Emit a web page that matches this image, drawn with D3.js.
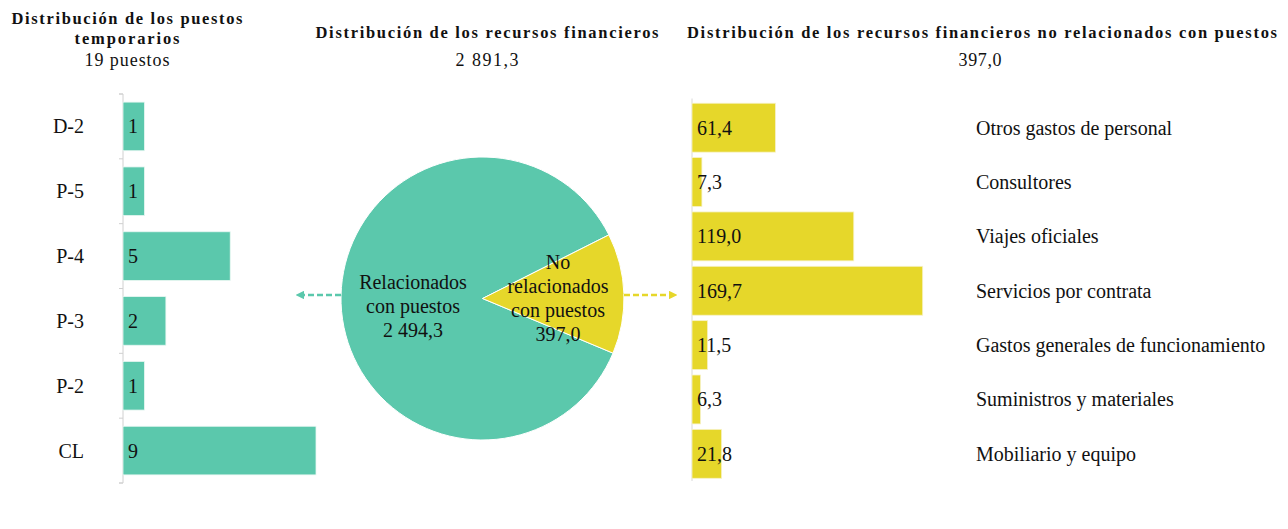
<!DOCTYPE html>
<html>
<head>
<meta charset="utf-8">
<script src="https://cdn.jsdelivr.net/npm/d3@7"></script>
<style>
  body { margin: 0; background: #fff; }
  text { font-family: "Liberation Serif", "Times New Roman", serif; fill: #111; }
  .title { font-weight: bold; font-size: 16.5px; }
  .sub { font-size: 18px; }
  .lbl { font-size: 20px; }
</style>
</head>
<body>
<script>
// data
const postCats = ['D-2', 'P-5', 'P-4', 'P-3', 'P-2', 'CL']
const postValues = [1, 1, 5, 2, 1, 9]

const pieCats = ['Relacionados con puestos', 'No relacionados con puestos']
const pieValues = [2494.3, 397.0]

const nonPostCats = ['Otros gastos de personal', 'Consultores', 'Viajes oficiales', 'Servicios por contrata',
  'Gastos generales de funcionamiento', 'Suministros y materiales', 'Mobiliario y equipo']
const nonPostValues = [61.4, 7.3, 119.0, 169.7, 11.5, 6.3, 21.8]

const fmt = v => v.toFixed(1).replace('.', ',').replace(/\B(?=(\d{3})+(?!\d))/g, ' ')

const width = 1288
const height = 529
const green = '#5BC8AC'
const yellow = '#E6D72A'

const svg = d3.select('body').append('svg')
  .attr('width', width)
  .attr('height', height)

// titles
const titles = [
  { x: 127, y: 24, t: 'Distribución de los puestos', cls: 'title', len: 231 },
  { x: 127, y: 44, t: 'temporarios', cls: 'title', len: 105 },
  { x: 127, y: 66, t: '19 puestos', cls: 'sub', len: 85 },
  { x: 487, y: 38, t: 'Distribución de los recursos financieros', cls: 'title', len: 343 },
  { x: 487, y: 66, t: fmt(d3.sum(pieValues)), cls: 'sub', len: 63 },
  { x: 982, y: 38, t: 'Distribución de los recursos financieros no relacionados con puestos', cls: 'title', len: 590 },
  { x: 980, y: 66, t: fmt(d3.sum(nonPostValues)), cls: 'sub', len: 43 }
]
svg.append('g').selectAll('text')
  .data(titles)
  .enter()
  .append('text')
  .attr('class', d => d.cls)
  .attr('x', d => d.x)
  .attr('y', d => d.y)
  .attr('text-anchor', 'middle')
  .attr('textLength', d => d.len)
  .attr('lengthAdjust', 'spacing')
  .text(d => d.t)

// left: posts bar chart
const left = { x0: 123, top: 94, bottom: 483 }
const yPost = d3.scaleBand()
  .domain(postCats)
  .range([left.top, left.bottom])
  .paddingInner(0.25)
  .paddingOuter(0.125)
const xPost = d3.scaleLinear()
  .domain([0, 9])
  .range([0, 193])

const yAxisPost = d3.scaleBand().domain(postCats).range([left.top, left.bottom])
const gAxis = svg.append('g')
  .attr('transform', `translate(${left.x0},0)`)
  .call(d3.axisLeft(yAxisPost).tickSize(0).tickFormat(''))
gAxis.select('.domain').attr('stroke', '#d0d0d0').attr('d', `M-4,${left.top}H0V${left.bottom}H-4`)
gAxis.selectAll('.tickline')
  .data(d3.range(postCats.length + 1))
  .enter()
  .append('line')
  .attr('x1', -4).attr('x2', 0)
  .attr('y1', i => left.top + i * yAxisPost.step())
  .attr('y2', i => left.top + i * yAxisPost.step())
  .attr('stroke', '#d0d0d0')

svg.append('g').selectAll('rect')
  .data(postValues)
  .enter()
  .append('rect')
  .attr('x', left.x0)
  .attr('y', (d, i) => yPost(postCats[i]))
  .attr('width', d => xPost(d))
  .attr('height', yPost.bandwidth())
  .attr('fill', green)
  .attr('stroke', '#e8f7f2')
  .attr('stroke-width', 0.8)

svg.append('g').selectAll('text')
  .data(postValues)
  .enter()
  .append('text')
  .attr('class', 'lbl')
  .attr('x', left.x0 + 5)
  .attr('y', (d, i) => yPost(postCats[i]) + yPost.bandwidth() / 2 + 7)
  .text(d => d)

svg.append('g').selectAll('text')
  .data(postCats)
  .enter()
  .append('text')
  .attr('class', 'lbl')
  .attr('x', 84)
  .attr('y', d => yPost(d) + yPost.bandwidth() / 2 + 7)
  .attr('text-anchor', 'end')
  .text(d => d)

// middle: pie
const cx = 482.5
const cy = 298.5
const r = 141.5
const yellowAngle = 2 * Math.PI * pieValues[1] / d3.sum(pieValues)
const yellowMid = 88 * Math.PI / 180
const pie = d3.pie()
  .sort(null)
  .value(d => d)
  .startAngle(yellowMid + yellowAngle / 2)
  .endAngle(yellowMid + yellowAngle / 2 + 2 * Math.PI)
const arc = d3.arc().innerRadius(0).outerRadius(r)
const gPie = svg.append('g').attr('transform', `translate(${cx},${cy})`)
gPie.selectAll('path')
  .data(pie(pieValues))
  .enter()
  .append('path')
  .attr('d', arc)
  .attr('fill', (d, i) => i === 0 ? green : yellow)
  .attr('stroke', '#fff')
  .attr('stroke-width', 1)

const pieLabels = [
  { x: 413, y: 289, lines: ['Relacionados', 'con puestos', fmt(pieValues[0])] },
  { x: 558, y: 269, lines: ['No', 'relacionados', 'con puestos', fmt(pieValues[1])] }
]
pieLabels.forEach(p => {
  svg.append('g').selectAll('text')
    .data(p.lines)
    .enter()
    .append('text')
    .attr('class', 'lbl')
    .attr('x', p.x)
    .attr('y', (d, i) => p.y + i * 24)
    .attr('text-anchor', 'middle')
    .text(d => d)
})

// arrows
const defs = svg.append('defs')
;[['ag', green], ['ay', yellow]].forEach(([id, c]) => {
  defs.append('marker')
    .attr('id', id)
    .attr('viewBox', '0 0 10 10')
    .attr('refX', 5).attr('refY', 5)
    .attr('markerWidth', 3.5).attr('markerHeight', 3.5)
    .attr('orient', 'auto')
    .append('path')
    .attr('d', 'M0,0L10,5L0,10Z')
    .attr('fill', c)
})
svg.append('line')
  .attr('x1', cx - r).attr('x2', 300)
  .attr('y1', 295).attr('y2', 295)
  .attr('stroke', green).attr('stroke-width', 2.5)
  .attr('stroke-dasharray', '6,3')
  .attr('marker-end', 'url(#ag)')
svg.append('line')
  .attr('x1', cx + r).attr('x2', 673)
  .attr('y1', 295).attr('y2', 295)
  .attr('stroke', yellow).attr('stroke-width', 2.5)
  .attr('stroke-dasharray', '6,3')
  .attr('marker-end', 'url(#ay)')

// right: non-post bar chart
const right = { x0: 692, top: 100.5, bottom: 481 }
const yNon = d3.scaleBand()
  .domain(nonPostCats)
  .range([right.top, right.bottom])
  .paddingInner(0.1)
  .paddingOuter(0.05)
const xNon = d3.scaleLinear()
  .domain([0, 169.7])
  .range([0, 230.7])

svg.append('line')
  .attr('x1', right.x0).attr('x2', right.x0)
  .attr('y1', right.top - 2).attr('y2', right.bottom)
  .attr('stroke', '#d8d8d8')

svg.append('g').selectAll('rect')
  .data(nonPostValues)
  .enter()
  .append('rect')
  .attr('x', right.x0)
  .attr('y', (d, i) => yNon(nonPostCats[i]))
  .attr('width', d => xNon(d))
  .attr('height', yNon.bandwidth())
  .attr('fill', yellow)
  .attr('stroke', '#f7f2c8')
  .attr('stroke-width', 0.8)

svg.append('g').selectAll('text')
  .data(nonPostValues)
  .enter()
  .append('text')
  .attr('class', 'lbl')
  .attr('x', right.x0 + 5)
  .attr('y', (d, i) => yNon(nonPostCats[i]) + yNon.bandwidth() / 2 + 7)
  .text(d => fmt(d))

svg.append('g').selectAll('text')
  .data(nonPostCats)
  .enter()
  .append('text')
  .attr('class', 'lbl')
  .attr('x', 976)
  .attr('y', d => yNon(d) + yNon.bandwidth() / 2 + 7)
  .text(d => d)
</script>
</body>
</html>
